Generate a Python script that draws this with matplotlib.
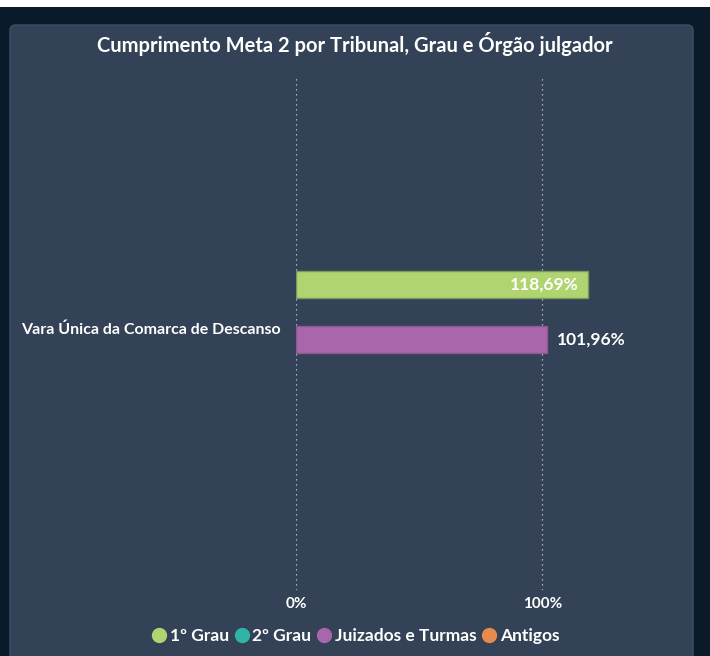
import matplotlib.pyplot as plt
from matplotlib.patches import FancyBboxPatch, Rectangle
from matplotlib.lines import Line2D

# data
categories = ["Vara Única da Comarca de Descanso"]
series = ["1º Grau", "2º Grau", "Juizados e Turmas", "Antigos"]
colors = ["#b0d470", "#2fb4a6", "#a966ad", "#e8894d"]
bar_series = ["1º Grau", "Juizados e Turmas"]
bar_values = [118.69, 101.96]
bar_labels = ["118,69%", "101,96%"]
xticks = [0, 100]
xtick_labels = ["0%", "100%"]

plt.rcParams["font.family"] = ["Lato", "DejaVu Sans"]
plt.rcParams["font.weight"] = "bold"

fig = plt.figure(figsize=(7.1, 6.56), dpi=100)
fig.patch.set_facecolor("#0b1a2b")
fig.add_artist(Rectangle((0, 1 - 7 / 656), 1, 7 / 656, transform=fig.transFigure,
                         facecolor="white", edgecolor="none", zorder=-2))
fig.add_artist(FancyBboxPatch((10 / 710, -0.05), 683 / 710, 1.05 - 25 / 656,
                              boxstyle="round,pad=0,rounding_size=0.008",
                              transform=fig.transFigure, facecolor="#334256",
                              edgecolor="#3e4e63", linewidth=1, zorder=-2))

ax = fig.add_axes([296 / 710, 1 - 590 / 656, 394 / 710, 515 / 656])
ax.set_facecolor("none")
ax.set_zorder(1)

offsets = [-0.5, 0.5]
for i, (s, v, lab) in enumerate(zip(bar_series, bar_values, bar_labels)):
    c = colors[series.index(s)]
    ax.barh(offsets[i], v, height=0.49, color=c, edgecolor="#7a9a5a" if i == 0 else "#8a5a90",
            linewidth=1, zorder=2)
    if v > 110:
        ax.text(v - 4, offsets[i], lab, ha="right", va="center", color="white",
                fontsize=12.5, fontweight="bold", zorder=3)
    else:
        ax.text(v + 4, offsets[i], lab, ha="left", va="center", color="white",
                fontsize=12.5, fontweight="bold", zorder=3)

ax.set_xlim(0, 160)
ax.set_ylim(5.05, -4.31)
for xv in xticks:
    ax.axvline(xv, color="#c8ced6", linestyle=(0, (1, 3)), linewidth=0.9, zorder=1)
ax.set_xticks(xticks)
ax.set_xticklabels(xtick_labels, color="white", fontsize=11, fontweight="bold")
ax.set_yticks([0.29])
ax.set_yticklabels(categories, color="white", fontsize=11.5, fontweight="bold")
ax.tick_params(length=0, axis="x", pad=5)
ax.tick_params(length=0, axis="y", pad=11)
for sp in ax.spines.values():
    sp.set_visible(False)

fig.text(0.5, 1 - 44 / 656, "Cumprimento Meta 2 por Tribunal, Grau e Órgão julgador",
         ha="center", va="center", color="white", fontsize=14.5, fontweight="bold")

handles = [Line2D([], [], marker="o", linestyle="none", markersize=10, color=c) for c in colors]
fig.legend(handles, series, loc="center", bbox_to_anchor=(0.5, 1 - 636 / 656), ncol=4,
           frameon=False, handletextpad=0.1, columnspacing=0.25, handlelength=1.0,
           labelcolor="white", prop={"size": 12.5, "weight": "bold"})

fig.savefig("out.png", dpi=100, facecolor=fig.get_facecolor())
